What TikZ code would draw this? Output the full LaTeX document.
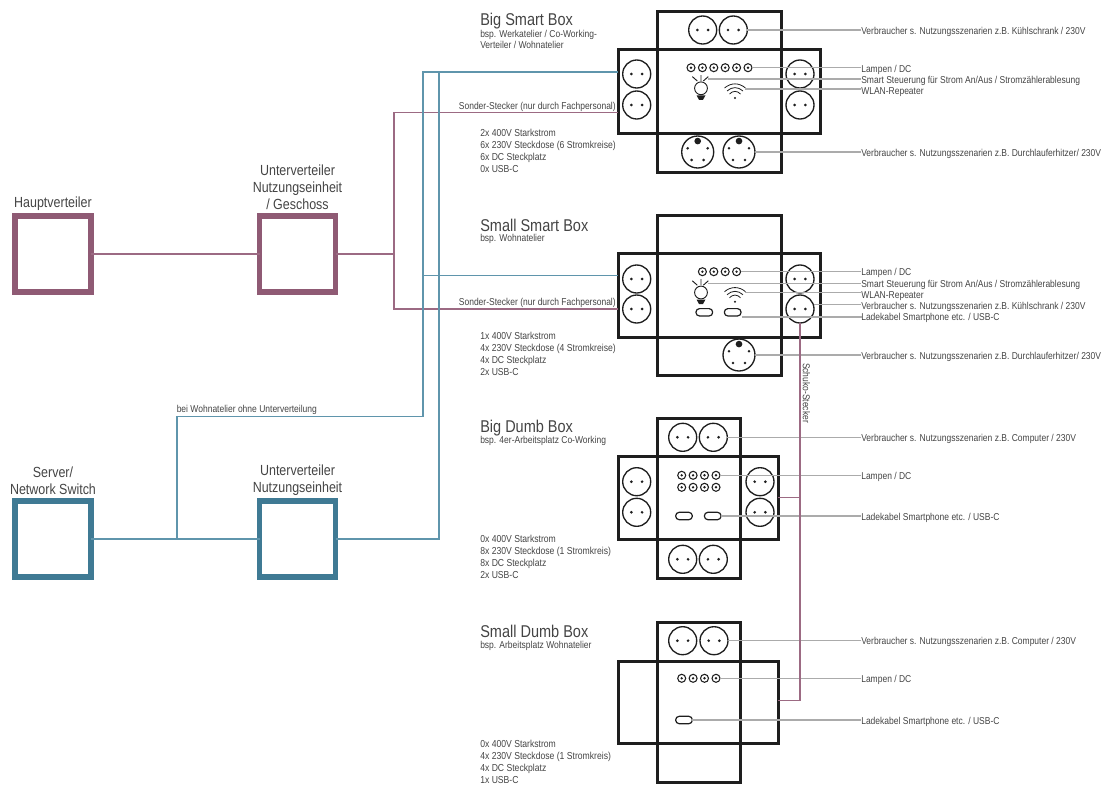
\documentclass[tikz,border=0pt]{standalone}
\usepackage{fontspec}
\setmainfont[FakeStretch=0.85]{Liberation Sans}
\usepackage{tikz}
\usetikzlibrary{positioning, fit, calc}

\definecolor{plum}{HTML}{8F5A74}
\definecolor{teal}{HTML}{3F7A94}
\definecolor{plumline}{HTML}{9C6A83}
\definecolor{tealline}{HTML}{5F95AC}
\definecolor{leadgrey}{HTML}{ABABAB}
\definecolor{inkgrey}{HTML}{444444}
\definecolor{boxblack}{HTML}{1E1E1E}

\begin{document}
\begin{tikzpicture}[
                x=0.75pt, y=-0.75pt,
                boxpart/.style={draw=boxblack, line width=2.25pt, rectangle, inner sep=0pt, outer sep=0pt},
                plumbox/.style={draw=plum, line width=4pt, rectangle, minimum size=57pt, inner sep=0pt, outer sep=0pt},
                tealbox/.style={draw=teal, line width=4pt, rectangle, minimum size=57pt, inner sep=0pt, outer sep=0pt},
                socket/.style={draw=boxblack, line width=1pt, circle, minimum size=21pt, inner sep=0pt, outer sep=0pt,
                    path picture={\fill[boxblack] ([xshift=-4pt]path picture bounding box.center) circle (1.1pt)
                        ([xshift=4pt]path picture bounding box.center) circle (1.1pt);}},
                heavysocket/.style={draw=boxblack, line width=1pt, circle, minimum size=24pt, inner sep=0pt, outer sep=0pt,
                    path picture={\fill[boxblack] ([yshift=8.2pt]path picture bounding box.center) circle (2.5pt)
                        ([shift={(-7.5pt,2.8pt)}]path picture bounding box.center) circle (1.1pt)
                        ([shift={(7.5pt,2.8pt)}]path picture bounding box.center) circle (1.1pt)
                        ([shift={(-4.5pt,-6pt)}]path picture bounding box.center) circle (1.1pt)
                        ([shift={(4.5pt,-6pt)}]path picture bounding box.center) circle (1.1pt);}},
                dcport/.style={draw=boxblack, line width=0.8pt, circle, minimum size=6pt, inner sep=0pt, outer sep=0pt,
                    path picture={\fill[boxblack] (path picture bounding box.center) circle (1pt);}},
                usbport/.style={draw=boxblack, line width=0.9pt, rectangle, rounded corners=2.6pt, minimum width=12.5pt, minimum height=5.5pt, inner sep=0pt, outer sep=0pt},
                leader/.style={draw=leadgrey, line width=0.8pt},
                plumedge/.style={draw=plumline, line width=0.8pt},
                tealedge/.style={draw=tealline, line width=0.8pt},
                verbund/.style={text=inkgrey, font=\fontsize{11}{12.8}\selectfont, align=center, inner sep=0pt},
                boxtitle/.style={text=inkgrey, font=\fontsize{12.8}{14}\selectfont, anchor=west, inner sep=0pt},
                note/.style={text=inkgrey, font=\fontsize{7.5}{8.8}\selectfont, anchor=west, inner sep=0pt, align=left},
                speclist/.style={text=inkgrey, font=\fontsize{7.6}{9}\selectfont, anchor=west, inner sep=0pt, align=left},
                pics/bulb/.style={code={
                    \draw[boxblack, line width=0.7pt] (0,0) circle (6.4);
                    \fill[boxblack] (-4.5,7) -- (4.5,7) -- (2,11.5) -- (-2,11.5) -- cycle;
                    \draw[boxblack, line width=0.7pt] (-8.7,-11.7) -- (-3.7,-7.3) (0,-13.3) -- (0,-7.3) (7.3,-11.7) -- (2.3,-7.3);
                    \coordinate (-tip) at (7.3,-9.3);
                }},
                pics/wifi/.style={code={
                    \fill[boxblack] (0,0) circle (1.1);
                    \draw[boxblack, line width=0.6pt] (-10.5,-10) .. controls (-4,-15.5) and (4,-15.5) .. (10.5,-10);
                    \draw[boxblack, line width=0.6pt] (-8,-7) .. controls (-3,-11.5) and (3,-11.5) .. (8,-7);
                    \draw[boxblack, line width=0.6pt] (-5.5,-4) .. controls (-2,-7.5) and (2,-7.5) .. (5.5,-4);
                    \coordinate (-tip) at (10,-9);
                }}
            ]
            \useasboundingbox (0,0) rectangle (1103,785);

            % Verteiler links
            \node[plumbox] (HV) at (53,254) {};
            \node[plumbox] (UVG) at (297.5,254) {};
            \node[tealbox] (SW) at (53,539) {};
            \node[tealbox] (UVN) at (297.5,539) {};
            \node[verbund, above=4.2pt of HV] (HVtext) {Hauptverteiler};
            \node[verbund, above=4.2pt of UVG] (UVGtext) {Unterverteiler\\Nutzungseinheit\\/ Geschoss};
            \node[verbund, above=4.2pt of SW] (SWtext) {Server/\\Network Switch};
            \node[verbund, above=4.2pt of UVN] (UVNtext) {Unterverteiler\\Nutzungseinheit};

            % Big Smart Box
            \node[boxpart, fit={(657,11) (781,49)}] (BSo) {};
            \node[boxpart, fit={(618,49) (657,133)}] (BSl) {};
            \node[boxpart, fit={(781,49) (820,133)}] (BSr) {};
            \node[boxpart, fit={(657,133) (781,172)}] (BSu) {};
            \node[boxpart, fit={(657,49) (781,133)}] (BSm) {};
            \node[socket] (BS1) at (702.7,30) {};
            \node[socket] (BS2) at (733.3,30) {};
            \node[socket] (BS3) at (636.7,74) {};
            \node[socket] (BS4) at (636.7,105) {};
            \node[socket] (BS5) at (800,74) {};
            \node[socket] (BS6) at (800,105) {};
            \node[heavysocket] (BS7) at (697.7,152) {};
            \node[heavysocket] (BS8) at (739,152) {};
            \foreach \nr/\xpos in {1/691,2/702.4,3/713.8,4/725.2,5/736.6,6/748}
                \node[dcport] (BSdc\nr) at (\xpos,67.7) {};
            \pic (BSb) at (701,88.3) {bulb};
            \pic (BSw) at (735,98) {wifi};

            % Small Smart Box
            \node[boxpart, fit={(657,215) (781,253)}] (SSo) {};
            \node[boxpart, fit={(618,253) (657,337)}] (SSl) {};
            \node[boxpart, fit={(781,253) (820,337)}] (SSr) {};
            \node[boxpart, fit={(657,337) (781,375)}] (SSu) {};
            \node[boxpart, fit={(657,253) (781,337)}] (SSm) {};
            \node[socket] (SS1) at (636.7,279) {};
            \node[socket] (SS2) at (636.7,309) {};
            \node[socket] (SS3) at (800,279) {};
            \node[socket] (SS4) at (800,309) {};
            \node[heavysocket] (SS5) at (739,355) {};
            \foreach \nr/\xpos in {1/702.4,2/713.8,3/725.2,4/736.6}
                \node[dcport] (SSdc\nr) at (\xpos,271.7) {};
            \node[usbport] (SSu1) at (704.3,312.3) {};
            \node[usbport] (SSu2) at (732.7,312.3) {};
            \pic (SSb) at (701,292.5) {bulb};
            \pic (SSw) at (735,301.7) {wifi};

            % Big Dumb Box
            \node[boxpart, fit={(657,418) (740,456)}] (BDo) {};
            \node[boxpart, fit={(618,456) (657,539)}] (BDl) {};
            \node[boxpart, fit={(740,456) (778,539)}] (BDr) {};
            \node[boxpart, fit={(657,539) (740,578)}] (BDu) {};
            \node[boxpart, fit={(657,456) (740,539)}] (BDm) {};
            \node[socket] (BD1) at (682.7,437.3) {};
            \node[socket] (BD2) at (713.3,437.3) {};
            \node[socket] (BD3) at (636.7,481.7) {};
            \node[socket] (BD4) at (636.7,512.3) {};
            \node[socket] (BD5) at (760,481.7) {};
            \node[socket] (BD6) at (760,512.3) {};
            \node[socket] (BD7) at (682.7,559.3) {};
            \node[socket] (BD8) at (713.3,559.3) {};
            \foreach \nr/\xpos in {1/681.7,2/693.1,3/704.5,4/716} {
                \node[dcport] (BDdc\nr) at (\xpos,475.3) {};
                \node[dcport] (BDde\nr) at (\xpos,487.3) {};
            }
            \node[usbport] (BDu1) at (684,516) {};
            \node[usbport] (BDu2) at (712.7,516) {};

            % Small Dumb Box
            \node[boxpart, fit={(657,622) (740,661)}] (SDo) {};
            \node[boxpart, fit={(618,661) (657,743)}] (SDl) {};
            \node[boxpart, fit={(740,661) (778,743)}] (SDr) {};
            \node[boxpart, fit={(657,743) (740,782)}] (SDu) {};
            \node[boxpart, fit={(657,661) (740,743)}] (SDm) {};
            \node[socket] (SD1) at (682.7,640.7) {};
            \node[socket] (SD2) at (714,640.7) {};
            \foreach \nr/\xpos in {1/681.7,2/693.1,3/704.5,4/716}
                \node[dcport] (SDdc\nr) at (\xpos,678.3) {};
            \node[usbport] (SDu1) at (684,720) {};

            % Titel und Listen
            \node[boxtitle] (BStitle) at (480,21.5) {Big Smart Box};
            \node[note, anchor=north west] (BSsub) at (480,29.5) {bsp. Werkatelier / Co-Working-\\Verteiler / Wohnatelier};
            \node[speclist, anchor=north west] (BSspec) at (480,128.5) {2x 400V Starkstrom\\6x 230V Steckdose (6 Stromkreise)\\6x DC Steckplatz\\0x USB-C};
            \node[boxtitle] (SStitle) at (480,225) {Small Smart Box};
            \node[note] (SSsub) at (480,238.5) {bsp. Wohnatelier};
            \node[speclist, anchor=north west] (SSspec) at (480,331.5) {1x 400V Starkstrom\\4x 230V Steckdose (4 Stromkreise)\\4x DC Steckplatz\\2x USB-C};
            \node[boxtitle] (BDtitle) at (480,428.5) {Big Dumb Box};
            \node[note] (BDsub) at (480,441) {bsp. 4er-Arbeitsplatz Co-Working};
            \node[speclist, anchor=north west] (BDspec) at (480,535) {0x 400V Starkstrom\\8x 230V Steckdose (1 Stromkreis)\\8x DC Steckplatz\\2x USB-C};
            \node[boxtitle] (SDtitle) at (480,631.7) {Small Dumb Box};
            \node[note] (SDsub) at (480,645.5) {bsp. Arbeitsplatz Wohnatelier};
            \node[speclist, anchor=north west] (SDspec) at (480,740) {0x 400V Starkstrom\\4x 230V Steckdose (1 Stromkreis)\\4x DC Steckplatz\\1x USB-C};

            % Beschriftung rechts
            \node[note] (BSt1) at (861,31.5) {Verbraucher s. Nutzungsszenarien z.B. Kühlschrank / 230V};
            \node[note] (BSt2) at (861,69.5) {Lampen / DC};
            \node[note] (BSt3) at (861,80.7) {Smart Steuerung für Strom An/Aus / Stromzählerablesung};
            \node[note] (BSt4) at (861,91.7) {WLAN-Repeater};
            \node[note] (BSt5) at (861,153.7) {Verbraucher s. Nutzungsszenarien z.B. Durchlauferhitzer/ 230V};
            \node[note] (SSt1) at (861,273) {Lampen / DC};
            \node[note] (SSt2) at (861,285) {Smart Steuerung für Strom An/Aus / Stromzählerablesung};
            \node[note] (SSt3) at (861,296) {WLAN-Repeater};
            \node[note] (SSt4) at (861,306.5) {Verbraucher s. Nutzungsszenarien z.B. Kühlschrank / 230V};
            \node[note] (SSt5) at (861,318) {Ladekabel Smartphone etc. / USB-C};
            \node[note] (SSt6) at (861,357) {Verbraucher s. Nutzungsszenarien z.B. Durchlauferhitzer/ 230V};
            \node[note] (BDt1) at (861,438.5) {Verbraucher s. Nutzungsszenarien z.B. Computer / 230V};
            \node[note] (BDt2) at (861,476.5) {Lampen / DC};
            \node[note] (BDt3) at (861,517.5) {Ladekabel Smartphone etc. / USB-C};
            \node[note] (SDt1) at (861,642) {Verbraucher s. Nutzungsszenarien z.B. Computer / 230V};
            \node[note] (SDt2) at (861,680) {Lampen / DC};
            \node[note] (SDt3) at (861,721.5) {Ladekabel Smartphone etc. / USB-C};

            % Kanten grau
            \draw[leader] (BS2.east) -- (BS2.east -| BSt1.west);
            \draw[leader] (BSdc6.east) -- (BSdc6.east -| BSt2.west);
            \draw[leader] (BSb-tip) -- (BSb-tip -| BSt3.west);
            \draw[leader] (BSw-tip) -- (BSw-tip -| BSt4.west);
            \draw[leader] (BS8.east) -- (BS8.east -| BSt5.west);
            \draw[leader] (SSdc4.east) -- (SSdc4.east -| SSt1.west);
            \draw[leader] (SSb-tip) -- (SSb-tip -| SSt2.west);
            \draw[leader] (SSw-tip) -- (SSw-tip -| SSt3.west);
            \draw[leader] ([yshift=3.5pt]SS4.east) -- ([yshift=3.5pt]SS4.east -| SSt4.west);
            \draw[leader] ([shift={(0.5pt,-3.5pt)}]SSu2.east) -- ([shift={(0.5pt,-3.5pt)}]SSu2.east -| SSt5.west);
            \draw[leader] (SS5.east) -- (SS5.east -| SSt6.west);
            \draw[leader] (BD2.east) -- (BD2.east -| BDt1.west);
            \draw[leader] (BDdc4.east) -- (BDdc4.east -| BDt2.west);
            \draw[leader] (BDu2.east) -- (BDu2.east -| BDt3.west);
            \draw[leader] (SD2.east) -- (SD2.east -| SDt1.west);
            \draw[leader] (SDdc4.east) -- (SDdc4.east -| SDt2.west);
            \draw[leader] (SDu1.east) -- (SDu1.east -| SDt3.west);

            % Kanten Strom
            \coordinate (stromknoten) at (394,254);
            \draw[plumedge] (HV.east) -- (UVG.west);
            \draw[plumedge] (UVG.east) -- (stromknoten);
            \draw[plumedge] (BSl.west |- 0,112.5) -| (stromknoten) |- (SSl.west |- 0,309);
            \node[note, anchor=south east] (BSsonder) at ([shift={(-2,-1)}]BSl.west |- 0,112.5) {Sonder-Stecker (nur durch Fachpersonal)};
            \node[note, anchor=south east] (SSsonder) at ([shift={(-2,-1)}]SSl.west |- 0,309) {Sonder-Stecker (nur durch Fachpersonal)};

            % Kanten Netzwerk
            \coordinate (netzknoten) at (177,539);
            \draw[tealedge] (SW.east) -- (UVN.west);
            \draw[tealedge] (UVN.east) -| (439,72) -- (BSl.west |- 0,72);
            \draw[tealedge] (netzknoten) |- (423,416.7) |- (BSl.west |- 0,72);
            \draw[tealedge] (423,275.7) -- (SSl.west |- 0,275.7);
            \node[note, anchor=south west] (ohneUV) at (176.5,415) {bei Wohnatelier ohne Unterverteilung};

            % Schuko
            \coordinate (schukoknoten) at (800,497.7);
            \draw[plumedge] (SS4.south) -- (800,700.7) -- (SDr.east |- 0,700.7);
            \draw[plumedge] (BDr.east |- schukoknoten) -- (schukoknoten);
            \node[note, rotate=-90, anchor=center] (schukotext) at (806.5,393) {Schuko-Stecker};
        \end{tikzpicture}
\end{document}
